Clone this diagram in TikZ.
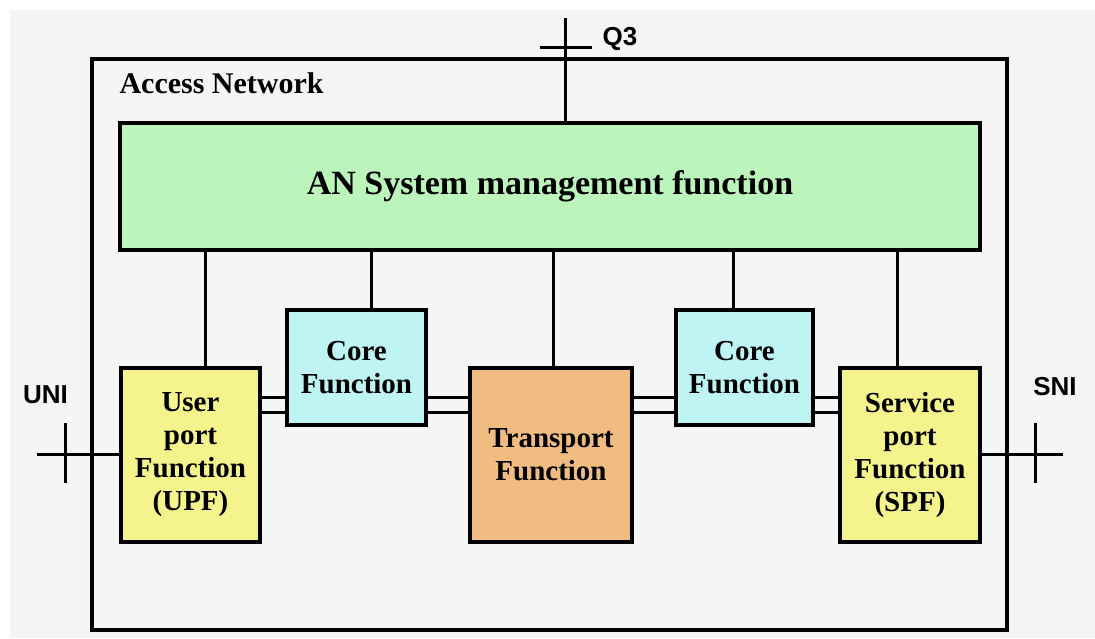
\documentclass[tikz,border=0pt]{standalone}
\usepackage{fontspec}
\setmainfont{Liberation Serif}
\newfontfamily\labelfont{Liberation Sans}
\usepackage{tikz}
\usetikzlibrary{positioning}

\definecolor{bggray}{RGB}{245,245,245}
\definecolor{mgmtgreen}{RGB}{188,245,188}
\definecolor{corecyan}{RGB}{190,244,244}
\definecolor{portyellow}{RGB}{245,244,140}
\definecolor{transorange}{RGB}{240,188,130}

\begin{document}
\begin{tikzpicture}[
	x=1pt, y=-1pt,
	fbox/.style={draw, line width=3.4pt, align=center, inner sep=0pt,
		font=\fontsize{29}{33}\selectfont\bfseries},
	wire/.style={line width=3pt},
	iface/.style={font=\labelfont\fontsize{26}{30}\selectfont\bfseries},
	]
	\useasboundingbox (0,0) rectangle (1095,638);
	\fill[bggray] (10,10) rectangle (1095,638);
	\node[
	draw, line width=3.4pt, inner sep=0pt,
	minimum width=915pt, minimum height=571pt,
	] (an) at (549.5,344.5) {};
	\node[anchor=base west, font=\fontsize{30}{34}\selectfont\bfseries] (anlabel) at (116,93) {Access Network};
	\node[
	fbox, fill=mgmtgreen,
	minimum width=860pt, minimum height=127pt,
	font=\fontsize{34}{40}\selectfont\bfseries,
	] (mgmt) at (550,186.5) {AN System management function};
	\node[fbox, fill=portyellow, minimum width=139pt, minimum height=174pt] (upf) at (190.5,455) {User\\port\\Function\\(UPF)};
	\node[fbox, fill=corecyan, minimum width=139pt, minimum height=115pt] (core1) at (356.5,367.5) {Core\\Function};
	\node[fbox, fill=transorange, minimum width=162pt, minimum height=174pt] (trans) at (551,455) {Transport\\Function};
	\node[fbox, fill=corecyan, minimum width=137pt, minimum height=115pt] (core2) at (744.5,367.5) {Core\\Function};
	\node[fbox, fill=portyellow, minimum width=140pt, minimum height=174pt] (spf) at (910,455) {Service\\port\\Function\\(SPF)};
	\coordinate (q3top) at (565,18);
	\coordinate (q3tick) at (565,47);
	\coordinate (busa) at (0,397);
	\coordinate (busb) at (0,412);
	\coordinate (uniend) at (37,454);
	\coordinate (unitick) at (65,454);
	\coordinate (sniend) at (1063,454);
	\coordinate (snitick) at (1035,454);
	\node[iface, anchor=base west] (q3) at (599,45) {Q3};
	\node[iface] (uni) at (45.5,395) {UNI};
	\node[iface] (sni) at (1055,387) {SNI};
	\draw[wire]
	(q3top) edge (q3top |- mgmt.north)
	([xshift=-25pt]q3tick) edge ([xshift=27pt]q3tick)
	([xshift=14.5pt]upf.north) edge ([xshift=14.5pt]upf.north |- mgmt.south)
	([xshift=14.5pt]core1.north) edge ([xshift=14.5pt]core1.north |- mgmt.south)
	([xshift=2pt]trans.north) edge ([xshift=2pt]trans.north |- mgmt.south)
	([xshift=-11.5pt]core2.north) edge ([xshift=-11.5pt]core2.north |- mgmt.south)
	([xshift=-13pt]spf.north) edge ([xshift=-13pt]spf.north |- mgmt.south)
	(upf.east |- busa) edge (core1.west |- busa)
	(upf.east |- busb) edge (core1.west |- busb)
	(core1.east |- busa) edge (trans.west |- busa)
	(core1.east |- busb) edge (trans.west |- busb)
	(trans.east |- busa) edge (core2.west |- busa)
	(trans.east |- busb) edge (core2.west |- busb)
	(core2.east |- busa) edge (spf.west |- busa)
	(core2.east |- busb) edge (spf.west |- busb)
	(uniend) edge (upf.west |- uniend)
	([yshift=-29pt]unitick) edge ([yshift=31pt]unitick)
	(spf.east |- sniend) edge (sniend)
	([yshift=-29pt]snitick) edge ([yshift=31pt]snitick)
	;
\end{tikzpicture}
\end{document}
